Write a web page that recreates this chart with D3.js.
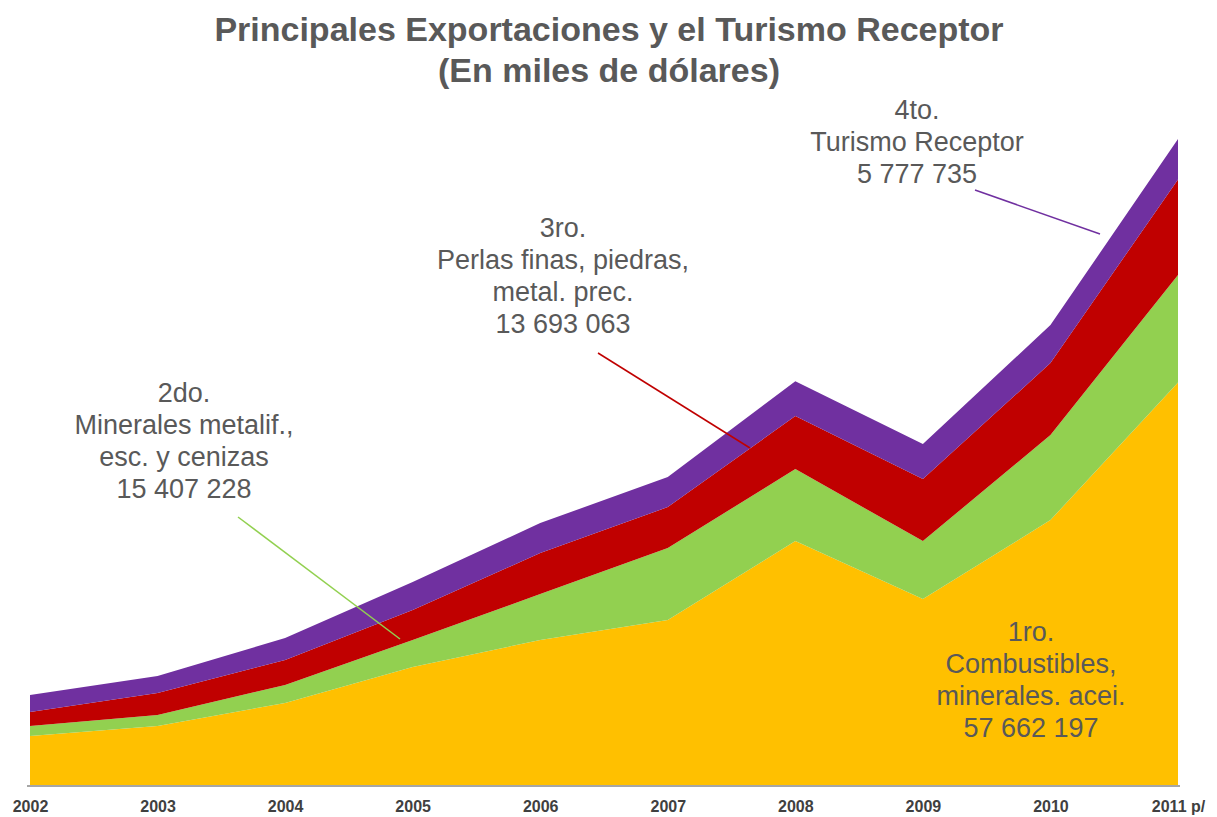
<!DOCTYPE html>
<html>
<head>
<meta charset="utf-8">
<script src="https://cdn.jsdelivr.net/npm/d3@7"></script>
<style>
  body { margin: 0; background: #fff; }
  svg { display: block; font-family: "Liberation Sans", Arial, sans-serif; }
</style>
</head>
<body>
<svg id="chart" width="1217" height="817"></svg>
<script>
// values in thousands of dollars
var years = ["2002", "2003", "2004", "2005", "2006", "2007", "2008", "2009", "2010", "2011 p/"];
var combustibles = [7020000, 8450000, 11750000, 16900000, 20770000, 23640000, 34950000, 26640000, 37960000, 57662197];
var minerales   = [1430000, 1580000, 2580000, 3870000, 6590000, 10310000, 10310000, 8310000, 12180000, 15407228];
var perlas      = [2010000, 3150000, 3580000, 4300000, 5870000, 5870000, 7590000, 8880000, 10310000, 13693063];
var turismo     = [2440000, 2440000, 3150000, 4010000, 4300000, 4300000, 5010000, 5010000, 5440000, 5777735];

var keys = ["combustibles", "minerales", "perlas", "turismo"];
var colors = {combustibles: "#FFC000", minerales: "#92D050", perlas: "#C00000", turismo: "#7030A0"};

var labels = [
  {key: "turismo", lines: ["4to.", "Turismo Receptor", "5 777 735"], x: 917, y: 110},
  {key: "perlas", lines: ["3ro.", "Perlas finas, piedras,", "metal. prec.", "13 693 063"], x: 563, y: 228},
  {key: "minerales", lines: ["2do.", "Minerales metalif.,", "esc. y cenizas", "15 407 228"], x: 184, y: 393},
  {key: "combustibles", lines: ["1ro.", "Combustibles,", "minerales. acei.", "57 662 197"], x: 1031, y: 632}
];
// leader lines from each label to its band
var leaders = [
  {key: "turismo", from: [975, 190], to: [1100, 234]},
  {key: "perlas", from: [598, 353], to: [750, 448]},
  {key: "minerales", from: [238, 517], to: [400, 639]}
];

var svg = d3.select("#chart");
var textColor = "#595959";

var rows = years.map(function(y, i) {
  return {year: y, combustibles: combustibles[i], minerales: minerales[i], perlas: perlas[i], turismo: turismo[i]};
});
var series = d3.stack().keys(keys)(rows);

var x = d3.scalePoint().domain(years).range([30, 1178]);
var y = d3.scaleLinear().domain([0, 100000000]).range([785, 87]);

var area = d3.area()
  .x(function(d) { return x(d.data.year); })
  .y0(function(d) { return y(d[0]); })
  .y1(function(d) { return y(d[1]); });

svg.append("g").selectAll("path")
  .data(series)
  .enter().append("path")
  .attr("d", area)
  .attr("fill", function(d) { return colors[d.key]; });

// axis
var xAxis = svg.append("g")
  .attr("transform", "translate(0,786)")
  .call(d3.axisBottom(x).tickSize(0).tickPadding(15));
xAxis.select(".domain").attr("stroke", "#A6A6A6").attr("stroke-width", 2)
  .attr("d", "M27,0H1180");
xAxis.selectAll("text")
  .attr("font-size", 16)
  .attr("font-weight", "bold")
  .attr("fill", "#404040")
  .attr("font-family", "'Liberation Sans', Arial, sans-serif");

// title
svg.append("text").attr("x", 609).attr("y", 41).attr("text-anchor", "middle")
  .attr("font-size", 34).attr("font-weight", "bold").attr("fill", textColor)
  .text("Principales Exportaciones y el Turismo Receptor");
svg.append("text").attr("x", 609).attr("y", 82).attr("text-anchor", "middle")
  .attr("font-size", 34).attr("font-weight", "bold").attr("fill", textColor)
  .text("(En miles de dólares)");

// leader lines
leaders.forEach(function(l) {
  svg.append("line")
    .attr("x1", l.from[0]).attr("y1", l.from[1])
    .attr("x2", l.to[0]).attr("y2", l.to[1])
    .attr("stroke", colors[l.key]).attr("stroke-width", 1.5);
});

// labels
labels.forEach(function(lb) {
  var t = svg.append("text")
    .attr("text-anchor", "middle")
    .attr("font-size", 27)
    .attr("fill", textColor);
  lb.lines.forEach(function(line, i) {
    t.append("tspan").attr("x", lb.x).attr("y", lb.y + i * 32).attr("dy", "0.35em").text(line);
  });
});
</script>
</body>
</html>
